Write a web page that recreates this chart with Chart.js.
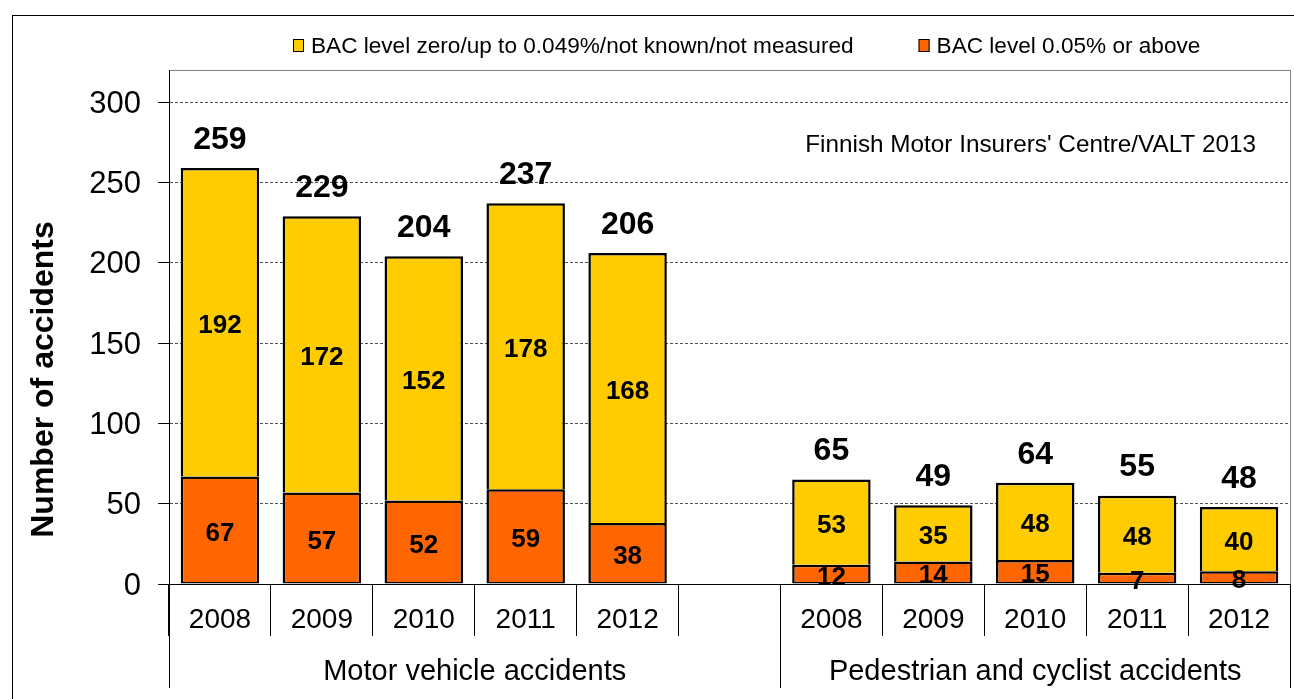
<!DOCTYPE html>
<html>
<head>
<meta charset="utf-8">
<script src="https://cdn.jsdelivr.net/npm/chart.js@4.4.1/dist/chart.umd.min.js"></script>
<style>
  html, body { margin: 0; padding: 0; background: #fff; }
</style>
</head>
<body>
<canvas id="bac-chart" width="1294" height="699"></canvas>
<script>
// categories (the empty slot is the gap between the two groups)
var years = ["2008", "2009", "2010", "2011", "2012", "", "2008", "2009", "2010", "2011", "2012"];
var groupNames = ["Motor vehicle accidents", "Pedestrian and cyclist accidents"];
var groupFirst = [0, 6];
var groupLast = [5, 10];

// series values
var lowBac = [192, 172, 152, 178, 168, null, 53, 35, 48, 48, 40];
var highBac = [67, 57, 52, 59, 38, null, 12, 14, 15, 7, 8];
var totals = [259, 229, 204, 237, 206, null, 65, 49, 64, 55, 48];

// tick labels
var yTicks = [0, 50, 100, 150, 200, 250, 300];

var seriesNames = ["BAC level zero/up to 0.049%/not known/not measured", "BAC level 0.05% or above"];
var yTitle = "Number of accidents";
var sourceNote = "Finnish Motor Insurers' Centre/VALT 2013";

var fontFamily = "'Liberation Sans', Arial, sans-serif";
Chart.defaults.font.family = fontFamily;
Chart.defaults.color = "#000";

var decor = {
  id: "decor",
  beforeDraw: function (chart) {
    var ctx = chart.ctx, a = chart.chartArea;
    ctx.save();
    ctx.fillStyle = "#fff";
    ctx.fillRect(0, 0, chart.width, chart.height);
    // outer frame of the chart
    ctx.strokeStyle = "#000";
    ctx.lineWidth = 1;
    ctx.strokeRect(12.5, 15.5, chart.width, chart.height);
    // plot area frame
    ctx.strokeStyle = "#7f7f7f";
    ctx.strokeRect(a.left + 0.5, a.top + 0.5, a.right - a.left, a.bottom - a.top);
    ctx.restore();
  },
  afterDatasetsDraw: function (chart) {
    var ctx = chart.ctx;
    var highMeta = chart.getDatasetMeta(0), lowMeta = chart.getDatasetMeta(1);
    ctx.save();
    ctx.fillStyle = "#000";
    ctx.textAlign = "center";
    ctx.textBaseline = "middle";
    ctx.font = "bold 26px " + fontFamily;
    [[highMeta, highBac], [lowMeta, lowBac]].forEach(function (pair) {
      pair[0].data.forEach(function (bar, i) {
        if (pair[1][i] == null) return;
        ctx.fillText(String(pair[1][i]), bar.x, (bar.y + bar.base) / 2 + 3.5);
      });
    });
    ctx.font = "bold 32px " + fontFamily;
    lowMeta.data.forEach(function (bar, i) {
      if (totals[i] == null) return;
      ctx.fillText(String(totals[i]), bar.x, bar.y - 28);
    });
    ctx.restore();
  },
  afterDraw: function (chart) {
    var ctx = chart.ctx, a = chart.chartArea, xs = chart.scales.x;
    var half = (xs.getPixelForTick(1) - xs.getPixelForTick(0)) / 2;
    ctx.save();
    ctx.fillStyle = "#000";
    ctx.strokeStyle = "#000";
    ctx.lineWidth = 1;

    // second level of the category axis
    ctx.font = "29px " + fontFamily;
    ctx.textAlign = "center";
    ctx.textBaseline = "middle";
    groupNames.forEach(function (name, g) {
      var left = xs.getPixelForTick(groupFirst[g]) - half;
      var right = xs.getPixelForTick(groupLast[g]) + half;
      ctx.beginPath();
      ctx.moveTo(Math.round(left) + 0.5, a.bottom);
      ctx.lineTo(Math.round(left) + 0.5, a.bottom + 104);
      ctx.moveTo(Math.round(right) + 0.5, a.bottom);
      ctx.lineTo(Math.round(right) + 0.5, a.bottom + 104);
      ctx.stroke();
      ctx.fillText(name, (left + right) / 2, a.bottom + 88);
    });

    // y axis title
    ctx.save();
    ctx.translate(44, (a.top + chart.height - 10) / 2);
    ctx.rotate(-Math.PI / 2);
    ctx.font = "bold 32px " + fontFamily;
    ctx.fillText(yTitle, 0, 0);
    ctx.restore();

    // source note
    ctx.font = "24.3px " + fontFamily;
    ctx.textAlign = "right";
    ctx.fillText(sourceNote, a.right - 34, a.top + 75);

    // legend
    ctx.font = "22.6px " + fontFamily;
    ctx.textAlign = "left";
    var x = 293, ly = 45;
    [1, 0].forEach(function (d) {
      var ds = chart.data.datasets[d];
      ctx.fillStyle = ds.backgroundColor;
      ctx.fillRect(x, ly - 6, 11, 13);
      ctx.strokeRect(x + 0.5, ly - 5.5, 10, 12);
      ctx.fillStyle = "#000";
      ctx.fillText(ds.label, x + 18, ly + 2);
      x += 18 + ctx.measureText(ds.label).width + 65;
    });
    ctx.restore();
  }
};

new Chart(document.getElementById("bac-chart"), {
  type: "bar",
  data: {
    labels: years,
    datasets: [
      {
        label: seriesNames[1],
        data: highBac,
        backgroundColor: "#ff6600",
        borderColor: "#000",
        borderWidth: { top: 2.5, left: 2.5, right: 2.5, bottom: 1.5 },
        borderSkipped: false
      },
      {
        label: seriesNames[0],
        data: lowBac,
        backgroundColor: "#ffcc00",
        borderColor: "#000",
        borderWidth: { top: 2.5, left: 2.5, right: 2.5, bottom: 0 },
        borderSkipped: false
      }
    ]
  },
  options: {
    responsive: false,
    animation: false,
    layout: { padding: { top: 70, right: 4, bottom: 0, left: 0 } },
    datasets: { bar: { categoryPercentage: 1, barPercentage: 0.77 } },
    plugins: {
      legend: { display: false },
      tooltip: { enabled: false }
    },
    scales: {
      x: {
        stacked: true,
        grid: { offset: true, drawOnChartArea: false, tickLength: 52, tickColor: "#000", tickWidth: 1 },
        border: { color: "#000", width: 1 },
        ticks: { font: { size: 28 }, padding: -33, color: "#000", maxRotation: 0, autoSkip: false },
        afterFit: function (s) { s.height = 115; }
      },
      y: {
        stacked: true,
        min: 0,
        max: 320,
        afterBuildTicks: function (s) {
          s.ticks = yTicks.map(function (v) { return { value: v }; });
        },
        grid: {
          color: function (c) { return c.tick && c.tick.value === 0 ? "rgba(0,0,0,0)" : "#4d4d4d"; },
          tickColor: "#000",
          tickLength: 11,
          tickBorderDash: [],
          lineWidth: 1
        },
        border: { color: "#000", width: 1, dash: [3, 2] },
        ticks: { font: { size: 31 }, padding: 17, labelOffset: 2, color: "#000" },
        afterFit: function (s) { s.width = 169; }
      }
    }
  },
  plugins: [decor]
});
</script>
</body>
</html>
